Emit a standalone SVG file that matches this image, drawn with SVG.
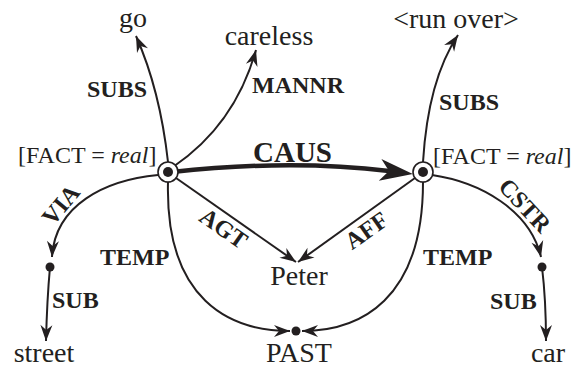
<svg xmlns="http://www.w3.org/2000/svg" width="575" height="370" viewBox="0 0 575 370">
<style>
.t{font-family:"Liberation Serif","Times New Roman",serif;font-size:28px;fill:#231f20}
.f{font-family:"Liberation Serif","Times New Roman",serif;font-size:24px;fill:#231f20}
.l{font-family:"Liberation Serif","Times New Roman",serif;font-size:24px;font-weight:bold;fill:#231f20}
.e{fill:none;stroke:#231f20;stroke-width:2}
</style>
<defs>
<marker id="a" viewBox="-17 -7 18 14" markerWidth="18" markerHeight="14" refX="0" refY="0" orient="auto" markerUnits="userSpaceOnUse">
<path d="M0,0 L-16,-6 L-11,0 L-16,6Z" fill="#231f20"/>
</marker>
<marker id="b" viewBox="-35 -12 36 24" markerWidth="36" markerHeight="24" refX="-24" refY="0" orient="auto" markerUnits="userSpaceOnUse">
<path d="M0,0 L-33,-11 L-24,0 L-33,11Z" fill="#231f20"/>
</marker>
</defs>
<g id="connectors">
<path class="e" d="M168,162 Q160,90 136,36" marker-end="url(#a)"/>
<path class="e" d="M173,167 Q235,125 256,50" marker-end="url(#a)"/>
<path class="e" d="M423,162 Q428,80 458,35" marker-end="url(#a)"/>
<path class="e" d="M158,175 C105,180 55,205 52,257" marker-end="url(#a)"/>
<path class="e" d="M50,267 Q47,300 46,341" marker-end="url(#a)"/>
<path class="e" d="M168,182 C165,300 230,331 290,331" marker-end="url(#a)"/>
<path class="e" d="M423,182 C423,300 360,331 302,331" marker-end="url(#a)"/>
<path class="e" d="M176,178 L296,262" marker-end="url(#a)"/>
<path class="e" d="M415,178 L298,262" marker-end="url(#a)"/>
<path class="e" d="M432,175 C480,182 530,210 541,257" marker-end="url(#a)"/>
<path class="e" d="M542,267 Q546,300 546,341" marker-end="url(#a)"/>
<path d="M172,172 Q290,159 389,171" fill="none" stroke="#231f20" stroke-width="4.5" marker-end="url(#b)"/>
<text class="l" x="87" y="97">SUBS</text>
<text class="l" x="252" y="93">MANNR</text>
<text class="l" x="439" y="110">SUBS</text>
<text class="l" x="253" y="162" style="font-size:29px">CAUS</text>
<text class="l" x="100" y="265">TEMP</text>
<text class="l" x="423" y="265">TEMP</text>
<text class="l" x="52" y="308">SUB</text>
<text class="l" x="490" y="309">SUB</text>
<text class="l" text-anchor="middle" transform="translate(67,210) rotate(-50)">VIA</text>
<text class="l" text-anchor="middle" transform="translate(519,211) rotate(47)">CSTR</text>
<text class="l" text-anchor="middle" transform="translate(219,235) rotate(35)">AGT</text>
<text class="l" text-anchor="middle" transform="translate(371,237) rotate(-35)">AFF</text>
</g>
<g id="n1">
<circle cx="168" cy="172" r="10" fill="#fff" stroke="#231f20" stroke-width="1.6"/>
<circle cx="168" cy="172" r="5" fill="#231f20"/>
<text class="f" x="18" y="163">[FACT = <tspan font-style="italic">real</tspan>]</text>
</g>
<g id="n2">
<circle cx="423" cy="172" r="10" fill="#fff" stroke="#231f20" stroke-width="1.6"/>
<circle cx="423" cy="172" r="5" fill="#231f20"/>
<text class="f" x="433" y="164">[FACT = <tspan font-style="italic">real</tspan>]</text>
</g>
<g id="go"><text class="t" x="133" y="27" text-anchor="middle">go</text></g>
<g id="careless"><text class="t" x="269" y="45" text-anchor="middle">careless</text></g>
<g id="runover"><text class="t" x="456" y="28" text-anchor="middle">&lt;run over&gt;</text></g>
<g id="peter"><text class="t" x="299" y="285" text-anchor="middle">Peter</text></g>
<g id="d1"><circle cx="50" cy="267" r="4.5" fill="#231f20"/></g>
<g id="street"><text class="t" x="44" y="362" text-anchor="middle">street</text></g>
<g id="past">
<circle cx="296" cy="331" r="4.5" fill="#231f20"/>
<text class="t" x="299" y="362" text-anchor="middle">PAST</text>
</g>
<g id="d2"><circle cx="542" cy="267" r="4.5" fill="#231f20"/></g>
<g id="car"><text class="t" x="548" y="362" text-anchor="middle">car</text></g>
</svg>
